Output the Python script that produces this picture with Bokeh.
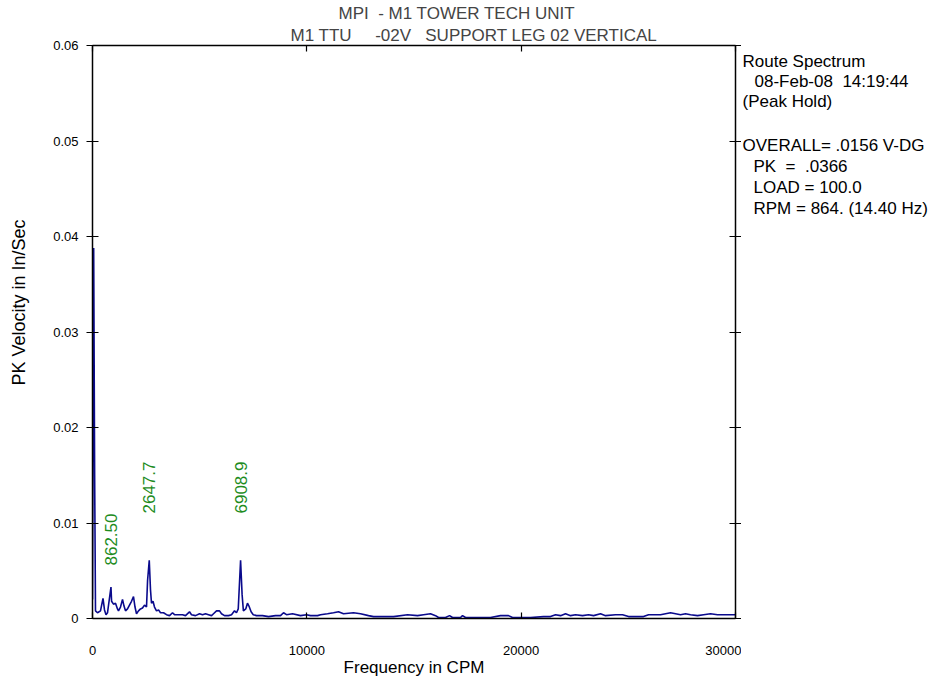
import math
from bokeh.plotting import figure
from bokeh.layouts import row
from bokeh.models import LinearAxis, FixedTicker, CustomJSTickFormatter, Range1d, Title
from bokeh.core.properties import value
from bokeh.embed import file_html
from bokeh.resources import INLINE

# ---------------- data ----------------
freq_cpm = [
    0, 55, 100, 140, 233, 373, 490, 560, 630, 700,
    862, 890, 980, 1073, 1166, 1213, 1306, 1400, 1470, 1540,
    1633, 1726, 1820, 1913, 1983, 2053, 2146, 2240, 2333, 2426, 2520,
    2570, 2648, 2706, 2753, 2823, 2893, 2986, 3080, 3173, 3313,
    3453, 3593, 3733, 3826, 4013, 4199, 4339, 4526, 4619,
    4806, 4993, 5133, 5273, 5413, 5553, 5646, 5786, 5926, 6019,
    6159, 6346, 6486, 6626, 6719, 6800, 6909, 6980, 7040, 7150, 7230, 7300, 7400, 7500, 7650,
    7932, 8212, 8539, 8772, 8912, 9052, 9332, 9705, 9985, 10172,
    10499, 10639, 10965, 11245, 11478, 11712, 12178, 12505, 12878, 13112,
    13578, 14045, 14698, 15165, 15445, 15771, 16005, 16145, 16471, 16658, 16798,
    17171, 17264, 17404, 18571, 19037, 19410, 19597, 20437, 21044, 21370,
    21604, 21837, 22070, 22304, 22537, 22864, 23144, 23377, 23704, 23937,
    24404, 24730, 25010, 25710, 25943, 26270, 26503, 26736, 26970, 27203,
    27436, 27670, 27903, 28230, 28510, 28836, 29163, 29536, 29910, 30000,
]
velocity = [
    0.0020, 0.0388, 0.0150, 0.0008, 0.0006, 0.0008, 0.0021, 0.0009, 0.0004, 0.0006,
    0.0033, 0.0018, 0.0015, 0.0016, 0.0010, 0.0008, 0.0012, 0.0020, 0.0013, 0.0008,
    0.0010, 0.0014, 0.0018, 0.0023, 0.0012, 0.0005, 0.0008, 0.0010, 0.0011, 0.0014, 0.0012,
    0.0040, 0.0061, 0.0030, 0.0016, 0.0018, 0.0012, 0.0008, 0.0009, 0.0006, 0.0006,
    0.0004, 0.0003, 0.0006, 0.0004, 0.0004, 0.0004, 0.0003, 0.0007, 0.0004,
    0.0003, 0.0005, 0.0004, 0.0005, 0.0004, 0.0003, 0.0005, 0.0008, 0.0008, 0.0005,
    0.0003, 0.0003, 0.0004, 0.0008, 0.0006, 0.0010, 0.0061, 0.0025, 0.0008, 0.0010, 0.0016, 0.0013, 0.0007, 0.0004, 0.0003,
    0.0003, 0.0002, 0.0003, 0.0003, 0.0006, 0.0004, 0.0005, 0.0003, 0.0004, 0.0003,
    0.0003, 0.0004, 0.0005, 0.0006, 0.0007, 0.0005, 0.0006, 0.0005, 0.0003, 0.0002,
    0.0002, 0.0002, 0.0004, 0.0003, 0.0004, 0.0005, 0.0003, 0.0001, 0.0001, 0.0003, 0.0001,
    0.0001, 0.0003, 0.0001, 0.0001, 0.0003, 0.0003, 0.0001, 0.0001, 0.0002, 0.0002,
    0.0004, 0.0003, 0.0005, 0.0003, 0.0004, 0.0003, 0.0004, 0.0003, 0.0005, 0.0003,
    0.0004, 0.0004, 0.0002, 0.0002, 0.0004, 0.0004, 0.0004, 0.0005, 0.0006, 0.0005,
    0.0004, 0.0005, 0.0004, 0.0003, 0.0004, 0.0005, 0.0004, 0.0004, 0.0004, 0.0004,
]

peak_freqs = [862.50, 2647.7, 6908.9]
peak_texts = ["862.50", "2647.7", "6908.9"]

x_ticks = [0, 10000, 20000, 30000]
y_ticks = [0, 0.01, 0.02, 0.03, 0.04, 0.05, 0.06]

NB = "\u00a0"
title_line1 = "MPI" + NB + " - M1 TOWER TECH UNIT"
title_line2 = "M1 TTU" + NB * 4 + " -02V" + NB * 2 + " SUPPORT LEG 02 VERTICAL"
info_lines = ["Route Spectrum", "08-Feb-08" + NB + " 14:19:44", "(Peak Hold)",
              "OVERALL= .0156 V-DG", "PK" + NB + " = " + NB + ".0366", "LOAD = 100.0",
              "RPM = 864. (14.40 Hz)"]
x_title = "Frequency in CPM"
y_title = "PK Velocity in In/Sec"

X_MAX, Y_MAX = 30000, 0.06

# ---------------- layout ----------------
FONT = "Liberation Sans"
FS = "17px"
YT_FS = "18px"
TICK_FS = "13px"
W0 = 30                      # narrow strip that holds the y-axis title
LEFT, TOP, FW, FH = 92, 45, 643, 573
RIGHT = 6
H = 680
BOTTOM = H - TOP - FH

p = figure(frame_width=FW, frame_height=FH, output_backend="svg", toolbar_location=None,
           x_range=Range1d(0, X_MAX), y_range=Range1d(0, Y_MAX),
           x_axis_location=None, y_axis_location=None,
           min_border_left=LEFT - W0, min_border_right=RIGHT,
           min_border_top=TOP, min_border_bottom=BOTTOM)
p.outline_line_color = None
p.grid.visible = False


def fy(py):
    return ((TOP + FH) - py) * Y_MAX / FH


def axis(ticks, fmt, tin, tout, show_labels, standoff=0):
    return LinearAxis(ticker=FixedTicker(ticks=ticks), formatter=CustomJSTickFormatter(code=fmt),
                      major_tick_in=tin, major_tick_out=tout, minor_tick_in=0, minor_tick_out=0,
                      axis_line_color="black", axis_line_width=1.5,
                      major_tick_line_color="black", major_tick_line_width=1.2,
                      major_label_text_font=FONT,
                      major_label_text_font_size=TICK_FS if show_labels else "1px",
                      major_label_text_color="black" if show_labels else None,
                      major_label_standoff=standoff,
                      axis_label_text_font=FONT, axis_label_text_font_size=FS,
                      axis_label_text_font_style="normal", axis_label_text_color="black")

yfmt = "return tick == 0 ? '0' : tick.toFixed(2);"
xfmt = "return tick.toFixed(0);"
bottom = axis(x_ticks, xfmt, 6, 0, True, 27)
bottom.axis_label = x_title
bottom.axis_label_standoff = 0
p.add_layout(axis(y_ticks, yfmt, 6, 6, True, 8), "left")
p.add_layout(axis(y_ticks, yfmt, 6, 6, False), "right")
p.add_layout(bottom, "below")
p.add_layout(axis(x_ticks, xfmt, 6, 0, False), "above")

p.add_layout(Title(text=title_line2, align="left", offset=290 - LEFT, standoff=1,
                   text_font=FONT, text_font_size=FS, text_font_style="normal"), "above")
p.add_layout(Title(text=title_line1, align="left", offset=338 - LEFT, standoff=1,
                   text_font=FONT, text_font_size=FS, text_font_style="normal"), "above")

p.line(freq_cpm, velocity, line_color="#0a0a8c", line_width=1.6)

label_y = [fy(565), fy(513), fy(513)]
p.text(x=peak_freqs, y=label_y, text=peak_texts, angle=math.pi / 2,
       text_align="left", text_baseline="middle", text_color="#1e8c1e",
       text_font=value(FONT), text_font_size=value(FS))


def strip(width):
    s = figure(width=width, height=H, output_backend="svg", toolbar_location=None,
               x_range=Range1d(0, width), y_range=Range1d(TOP + FH, TOP),
               x_axis_location=None, y_axis_location=None,
               min_border_left=0, min_border_right=0,
               min_border_top=TOP, min_border_bottom=BOTTOM)
    s.outline_line_color = None
    s.grid.visible = False
    return s

# ---------------- y-axis title strip (left) ----------------
p0 = strip(W0)
p0.text(x=[18], y=[302], text=[y_title], angle=math.pi / 2, text_align="center",
        text_baseline="middle", text_color="black", text_font=value(FONT),
        text_font_size=value(YT_FS))

# ---------------- info panel on the right ----------------
W2 = 189
X0 = LEFT + FW + RIGHT
p2 = strip(W2)
info_x = [742 - X0, 754 - X0, 742 - X0, 742 - X0, 753 - X0, 753 - X0, 753 - X0]
info_y = [61, 81, 101, 145, 166, 187, 208]
p2.text(x=info_x, y=info_y, text=info_lines, text_align="left", text_baseline="middle",
        text_color="black", text_font=value(FONT), text_font_size=value(FS))

layout = row(p0, p, p2)
open("out.html", "w").write(file_html(layout, INLINE))
